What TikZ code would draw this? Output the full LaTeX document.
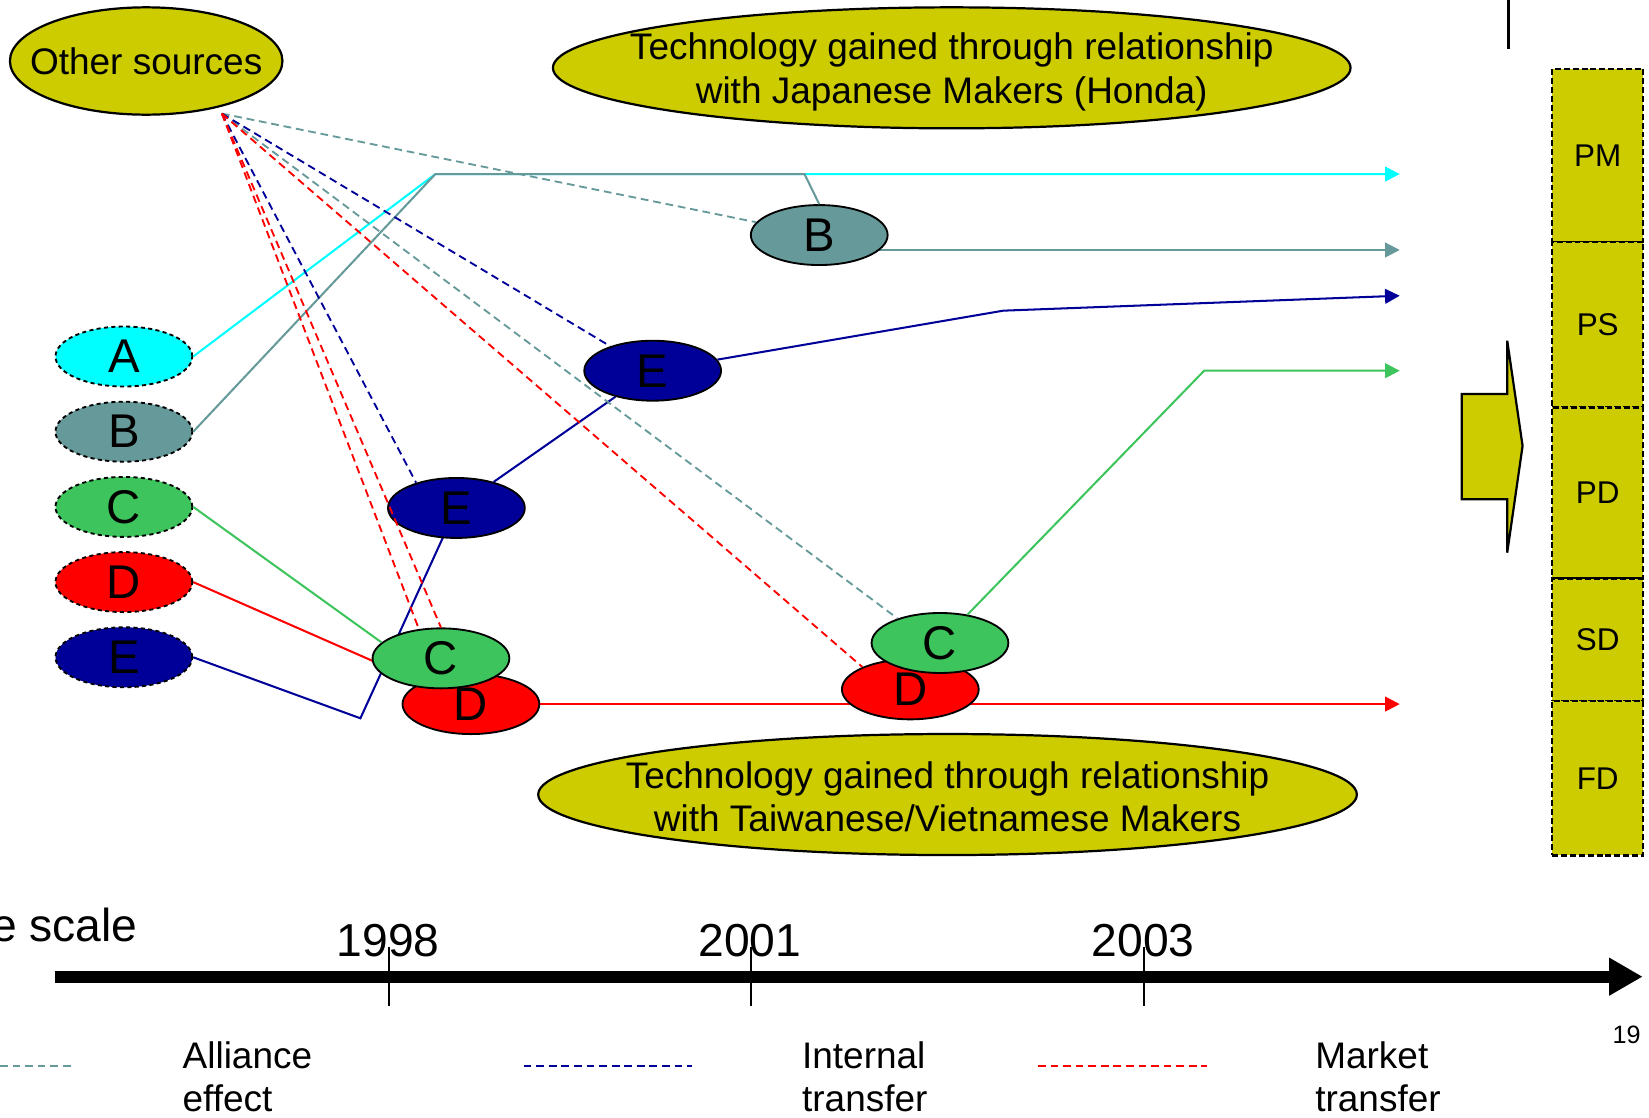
\documentclass[tikz,border=0pt]{standalone}
\usepackage{fontspec}
\setmainfont{Liberation Sans}
\usetikzlibrary{shapes.geometric}
\usetikzlibrary{arrows.meta}
\usetikzlibrary{positioning}

\definecolor{hondaolive}{HTML}{CCCC00}
\definecolor{alliteal}{HTML}{669999}
\definecolor{navyblue}{HTML}{000099}
\definecolor{techgreen}{HTML}{3DC45C}
\definecolor{aqua}{HTML}{00FFFF}

\pgfdeclarelayer{background}
\pgfsetlayers{background,main}

\begin{document}
\begin{tikzpicture}[x=0.01cm,y=-0.01cm,node distance=0,on grid=false,
	every node/.style={font=\fontsize{10}{11.7}\selectfont},
	maker/.style={ellipse,draw,line width=0.5pt,inner sep=0pt,minimum width=13mm,minimum height=5.7mm,font=\fontsize{12.8}{14}\selectfont},
	firm/.style={maker,dash pattern=on 1.1pt off 0.9pt},
	bubble/.style={ellipse,draw,line width=0.6pt,fill=hondaolive,inner sep=0pt},
	stackbox/.style={draw,dash pattern=on 1.6pt off 0.8pt,line width=0.6pt,fill=hondaolive,outer sep=0pt,minimum width=8.65mm,font=\fontsize{8.5}{10}\selectfont},
	link/.style={line width=0.55pt},
	flow/.style={link,-{Triangle[length=1.4mm,width=1.4mm]}},
	alliance/.style={alliteal,line width=0.5pt,dash pattern=on 2.1pt off 1.3pt},
	internal/.style={alliance,navyblue},
	market/.style={alliance,red},
	legend/.style={anchor=north west,align=left,inner sep=0pt},
	yearlabel/.style={anchor=base,font=\fontsize{12.5}{14}\selectfont}]

	\useasboundingbox (0,0) rectangle (1568,1063);
	\clip (0,0) rectangle (1568,1063);

	% Place nodes
	\node[bubble,minimum width=25.9mm,minimum height=10.2mm,label={center:Other sources}] (other) at (139,58) {};
	\node[bubble,minimum width=75.8mm,minimum height=11.5mm,
		label={[align=center,yshift=-1.1pt]center:{Technology gained through relationship\\with Japanese Makers (Honda)}}] (japan) at (905,64.5) {};
	\node[bubble,minimum width=77.8mm,minimum height=11.5mm,
		label={[align=center,yshift=-0.7pt]center:{Technology gained through relationship\\with Taiwanese/Vietnamese Makers}}] (taiwan) at (901,755.5) {};

	\node[firm,fill=aqua] (a) at (117.8,339) {A};
	\node[firm,fill=alliteal,below=1.27mm of a] (b) {B};
	\node[firm,fill=techgreen,below=1.27mm of b] (c) {C};
	\node[firm,fill=red,below=1.27mm of c] (d) {D};
	\node[firm,fill=navyblue,below=1.27mm of d] (e) {E};

	\node[maker,fill=alliteal] (b2) at (779,223.5) {B};
	\node[maker,fill=navyblue] (e2) at (620.6,352.5) {E};
	\node[maker,fill=navyblue] (e1) at (434,483) {E};
	\node[maker,fill=red] (d1) at (447.8,669.5) {D};
	\node[maker,fill=techgreen] (c1) at (419.3,626) {C};
	\node[maker,fill=red] (d2) at (865.6,655.5) {D};
	\node[maker,fill=techgreen] (c2) at (893.8,611.4) {C};

	% bends and arrow ends
	\coordinate (src) at (211,108);
	\coordinate (knee) at (414,165.5);
	\coordinate (bknee) at (765,165.5);
	\coordinate (elow) at (342.7,683);
	\coordinate (eknee) at (954,295.4);
	\coordinate (gknee) at (1145,352.5);
	\coordinate (atip) at (1331,165.5);
	\coordinate (btip) at (1331,237.7);
	\coordinate (etip) at (1331,281.2);
	\coordinate (gtip) at (1331,352.5);
	\coordinate (dtip) at (1331,669.5);

	\begin{pgfonlayer}{background}
		\draw[link,red] (d.east) -- (d1.center);
		\draw[flow,red] (d1.center) -- (dtip);
		\draw[link,navyblue] (e.east) -- (elow) -- (e1.center);
		\draw[flow,alliteal] (b2.center |- btip) -- (btip);
	\end{pgfonlayer}

	\draw[flow,aqua] (a.east) -- (knee) -- (atip);
	\draw[link,alliteal] (b.east) -- (knee) -- (bknee) -- (b2.north);
	\draw[link,techgreen] (c.east) -- (c1.165);
	\draw[link,navyblue] (e1) -- (e2);
	\draw[flow,navyblue] (e2) -- (eknee) -- (etip);
	\draw[flow,techgreen] (c2) -- (gknee) -- (gtip);

	% transfers from other sources
	\draw[alliance] (src) -- (b2);
	\draw[alliance] (src) -- (c2.150);
	\draw[internal] (src) -- (e2.150);
	\draw[internal] (src) -- (e1.148);
	\draw[market] (src) -- (c1.127);
	\draw[market] (src) -- (c1.north);
	\draw[market] (src) -- (d2.155);

	% stages
	\draw[line width=0.7pt] (1434.2,0) -- (1434.2,46.9);
	\draw[line width=0.6pt,fill=hondaolive] (1390,374.6) -- (1433.2,374.6) -- (1433.2,324) -- (1447.8,424)
		-- (1433.2,525.5) -- (1433.2,474.8) -- (1390,474.8) -- cycle;
	\node[stackbox,minimum height=16.42mm] (pm) at (1519.25,147.7) {PM};
	\node[stackbox,minimum height=15.75mm,below=of pm] (ps) {PS};
	\node[stackbox,minimum height=16.26mm,below=of ps] (pd) {PD};
	\node[stackbox,minimum height=11.66mm,below=of pd] (sd) {SD};
	\node[stackbox,minimum height=14.65mm,below=of sd] (fd) {FD};

	% time axis
	\coordinate (tstart) at (52.6,928.7);
	\coordinate (tend) at (1562,928.7);
	\draw[line width=1.14mm,-{Triangle[length=3.2mm,width=3.4mm]}] (tstart) -- (tend);
	\node[anchor=base east,inner sep=0pt,font=\fontsize{12.5}{14}\selectfont] (scale) at (131.6,895.4) {Time scale};
	\foreach \yr/\x in {1998/370,2001/714,2003/1088}{
		\node[yearlabel] (y\yr) at (\x-1,909.6) {\yr};
		\draw[line width=0.5pt] (\x,900) -- (\x,957);
	}

	% legend
	\draw[alliance] (0,1014) -- (68,1014);
	\node[legend] (allitxt) at (173,989.5) {Alliance\\effect};
	\draw[internal] (498,1014) -- (658,1014);
	\node[legend] (inttxt) at (762,989.5) {Internal\\transfer};
	\draw[market] (987,1014) -- (1148,1014);
	\node[legend] (mkttxt) at (1250,989.5) {Market\\transfer};
	\node[font=\fontsize{6.8}{8}\selectfont] (page) at (1546.7,984) {19};

\end{tikzpicture}
\end{document}
